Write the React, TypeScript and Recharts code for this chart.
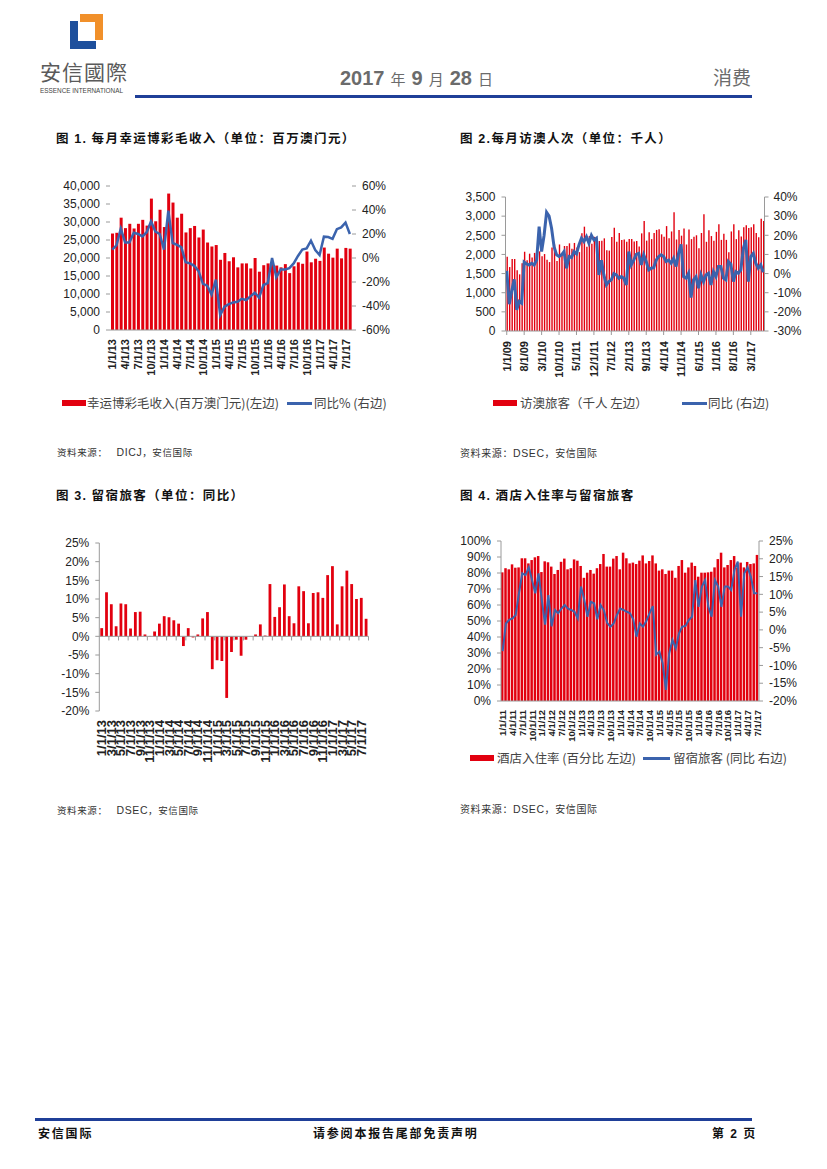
import React from 'react';
import { ComposedChart, Bar, Line, XAxis, YAxis, ReferenceLine } from 'recharts';

const RED = '#e2000f';
const BLUE = '#3b63ad';
const AXIS_GRAY = '#9a9a9a';
const NAVY = '#1f3f98';
const NUM_FONT = '"Liberation Sans", Arial, Helvetica, sans-serif';
const CJK = '"Noto Sans CJK SC", "Noto Sans", sans-serif';

// month labels like "1/1/13"
const months = (year: number, month: number, n: number) => {
  const out: string[] = [];
  for (let i = 0; i < n; i++) {
    const t = month - 1 + i;
    const yy = String((year + Math.floor(t / 12)) % 100).padStart(2, '0');
    out.push(`${(t % 12) + 1}/1/${yy}`);
  }
  return out;
};

// ---- 图1: 博彩毛收入 (Jan 2013 - Aug 2017)
const ggrMonths = months(2013, 1, 56);
const ggrRevenue = [
  26800, 27000, 31200, 28300, 29500, 28200, 29500, 30600, 29000, 36500, 30200, 33400,
  28600, 37900, 35400, 31200, 32300, 27100, 28300, 28900, 25700, 27900, 24300, 23200,
  23600, 19500, 21400, 19100, 20200, 17400, 18500, 18500, 17100, 20000, 16200, 18000,
  18500, 18600, 17900, 17400, 18300, 15800, 17700, 18800, 18400, 21800, 18800, 19800,
  19200, 22900, 21200, 20100, 22600, 19900, 22800, 22600,
];
const ggrYoY = [
  7, 10.5, 24.5, 13, 13, 21, 20, 18, 21.5, 30.5, 22, 20,
  7, 39.5, 12.5, 11, 9, -3.5, -4.5, -6.5, -11, -21.5, -23, -30.5,
  -18, -47.5, -40.5, -38.5, -37, -36.5, -34, -35, -32, -29, -33, -22.5,
  -21, 0, -16, -9.5, -9.5, -8.5, -4.5, 1.7, 7, 8, 14.4, 6.7,
  2.5, 17.8, 17.5, 16, 24, 25.5, 29.5, 20,
];
const ggrLeftTicks = [0, 5000, 10000, 15000, 20000, 25000, 30000, 35000, 40000];
const ggrRightTicks = [-60, -40, -20, 0, 20, 40, 60];

// ---- 图2: 访澳人次 (Jan 2009 - Aug 2017)
const visitorMonths = months(2009, 1, 104);
const visitors = [
  1940, 1670, 1880, 1880, 1590, 1480, 1770, 2070, 1850, 2020, 1920, 2040,
  2070, 2080, 1950, 2010, 1860, 1800, 2180, 2260, 1830, 2260, 2000, 2220,
  2220, 2290, 2150, 2300, 2180, 2060, 2550, 2725, 2200, 2480, 2280, 2460,
  2420, 2350, 2360, 2420, 2110, 2100, 2455, 2700, 2330, 2560, 2380, 2390,
  2330, 2400, 2400, 2340, 2350, 2210, 2550, 2870, 2360, 2580, 2400, 2560,
  2640, 2655, 2525, 2460, 2740, 2420, 2600, 3100, 2390, 2640, 2490, 2680,
  2260, 2650, 2400, 2460, 2500, 2160, 2560, 3050, 2330, 2630, 2480, 2360,
  2590, 2790, 2380, 2540, 2380, 2060, 2600, 2790, 2400, 2630, 2470, 2710,
  2760, 2690, 2710, 2790, 2560, 2450, 2930, 2870,
];
const visitorYoY = [
  1.4, -16, -9, -3, -19, -14.6, -15.5, 6, 5, 4.5, 5.4, 4.5,
  7, 24.5, 11.5, 20, 32, 30, 23.7, 14, 9.8, 8.9, 9.8, 11.5,
  2.8, 8.9, 8.4, 11.5, 10.3, 15, 18.5, 16.7, 19.3, 15.9, 20, 17.6,
  18.5, -0.7, 7, -0.7, -5.9, -4.2, -3.3, 0, -0.7, -2.4, -1.6, -2.4,
  -5.9, 11.5, 4.5, 7, 10, 10.6, 4.5, 9.8, 6.3, 1.9, 2.8, 3.1,
  7, 8.9, 9.8, 8.9, 6.3, 7, 5.4, 8, 3.7, 10.6, 15.3, -1.6,
  -2.4, 0.2, -12.5, -3.3, -1.6, -7.7, -0.7, -4.2, -0.7, 0.2, -5.9, 1,
  -1.6, 3.7, 3.7, -2.4, -3.3, 6.3, 4.9, -4.2, 1, 0.2, 1.9, 13.2,
  17.6, -4.2, 8.9, 10.6, 5.4, 2.8, 4.5, 0.7,
];
const visitorLeftTicks = [0, 500, 1000, 1500, 2000, 2500, 3000, 3500];
const visitorRightTicks = [-30, -20, -10, 0, 10, 20, 30, 40];

// ---- 图3: 留宿旅客同比 (Jan 2013 - Aug 2017)
const stayMonths = months(2013, 1, 56);
const stayGrowth = [
  2.2, 11.8, 8.6, 2.7, 8.8, 8.6, 2.1, 6.5, 6.6, 0.5,
  0.1, 1.3, 3.4, 5.4, 5.1, 4.3, 3.4, -2.6, 2.2, -0.3,
  0.5, 4.8, 6.5, -8.8, -6.4, -6.6, -16.5, -4.2, -0.9, -5.2,
  -0.9, 0, 0.5, 3.2, 0.2, 14.0, 5.2, 7.8, 13.9, 5.4,
  3.5, 13.4, 12.1, 3.5, 11.6, 11.8, 10.3, 16.4, 18.8, 3.2,
  13.4, 17.6, 14.0, 10.0, 10.3, 4.7,
];
const stayTicks = [-20, -15, -10, -5, 0, 5, 10, 15, 20, 25];

// ---- 图4: 酒店入住率与留宿旅客 (Jan 2011 - Jul 2017)
const hotelMonths = months(2011, 1, 79);
const occupancy = [
  80.4, 83, 82.3, 85.4, 83.3, 83.5, 89.2, 89.2, 86, 88.1, 89.8, 90.6,
  80.6, 87.3, 86.7, 84, 79.4, 81.9, 87, 89, 82.3, 83, 88.5, 87.7,
  84.4, 77, 80.2, 81.9, 79.6, 83, 85.6, 91.9, 84, 84, 89, 90.6,
  82.3, 92.7, 89.2, 86, 86.5, 85.6, 87.7, 91, 86, 87.5, 91, 86,
  81.5, 82.3, 79.4, 81.5, 81.5, 77, 84.4, 88.1, 80.2, 83.5, 86.5, 84.4,
  77.7, 80.2, 80.2, 80.4, 80.8, 83.5, 88.7, 92.7, 83.5, 85, 88.1, 90.6,
  83.5, 86.5, 83.5, 86.9, 85.6, 86, 91.3,
];
const guestYoY = [
  -6, 1.8, 2.8, 3.2, 4.2, 10.3, 15.9, 15.4, 17.6, 14, 10.3, 15.9,
  8.4, 1.5, 9.8, 1.0, 5.6, 4.7, 6, 7, 6, 5.6, 5.1, 3.2,
  12.2, 8.4, 3.7, 7.9, 7.5, 3, 7, 5.5, 2, 0.9, 1.8, 4.2,
  6, 5.6, 5.1, 4.7, 3, -1.9, 1.8, 0.9, 2.5, 4.7, 6.7, -7,
  -6.1, -9.4, -16.9, -6.6, -2.8, -5.2, -1, 0.9, 1.1, 2.8, 3.7, 14,
  6.5, 12.2, 14, 6.5, 3.7, 14, 12.2, 6.5, 12.2, 12.2, 11.2, 16.9,
  19.2, 3.7, 15.9, 17.6, 15, 10.3, 10.3,
];
const hotelLeftTicks = [0, 10, 20, 30, 40, 50, 60, 70, 80, 90, 100];
const hotelRightTicks = [-20, -15, -10, -5, 0, 5, 10, 15, 20, 25];

const ggrData = ggrMonths.map((m, i) => ({ m, rev: ggrRevenue[i], yoy: ggrYoY[i] }));
const visitorData = visitorMonths.map((m, i) => ({ m, v: visitors[i], yoy: visitorYoY[i] }));
const stayData = stayMonths.map((m, i) => ({ m, g: stayGrowth[i] }));
const hotelData = hotelMonths.map((m, i) => ({ m, occ: occupancy[i], yoy: guestYoY[i] }));

const fmtThousands = (v: number) => String(v).replace(/\B(?=(\d{3})+(?!\d))/g, ',');
const fmtPct = (v: number) => `${v}%`;

const numTick = { fontSize: 12, fill: '#222', fontFamily: NUM_FONT };

const RotTick = (props: any) => {
  const { x, y, payload, size } = props;
  return (
    <text
      x={x}
      y={y}
      transform={`rotate(-90 ${x} ${y})`}
      textAnchor="end"
      dominantBaseline="central"
      fontSize={size}
      fontWeight="bold"
      fill="#222"
      fontFamily={NUM_FONT}
    >
      {payload.value}
    </text>
  );
};

const abs = (left: number, top: number, extra: React.CSSProperties = {}): React.CSSProperties => ({
  position: 'absolute',
  left,
  top,
  whiteSpace: 'nowrap',
  ...extra,
});

const Title = ({ x, y, children }: { x: number; y: number; children: React.ReactNode }) => (
  <div style={abs(x, y, { fontFamily: CJK, fontWeight: 700, fontSize: 12.5, letterSpacing: 1.4, color: '#111', lineHeight: '14px' })}>
    {children}
  </div>
);

const Source = ({ x, y, size, children }: { x: number; y: number; size: number; children: React.ReactNode }) => (
  <div style={abs(x, y, { fontFamily: CJK, fontSize: size, color: '#333', lineHeight: '12px', letterSpacing: 0.6 })}>
    {children}
  </div>
);

const LegendBox = ({ x, y }: { x: number; y: number }) => (
  <div style={abs(x, y, { width: 24, height: 6, background: RED })} />
);
const LegendLine = ({ x, y, w }: { x: number; y: number; w: number }) => (
  <div style={abs(x, y, { width: w, height: 3, background: BLUE })} />
);
const LegendText = ({ x, y, children }: { x: number; y: number; children: React.ReactNode }) => (
  <div style={abs(x, y, { fontFamily: CJK, fontSize: 12.5, color: '#444', lineHeight: '14px', letterSpacing: 0 })}>
    {children}
  </div>
);

const Header = () => (
  <>
    <svg style={{ position: 'absolute', left: 68, top: 13 }} width={37} height={38}>
      <path d="M2 8 H10 V28 H28 V36 H2 Z" fill="#1d4f9c" />
      <path d="M12 1 H35 V27 H27 V9 H12 Z" fill="#f1902a" />
    </svg>
    <div style={abs(40, 58, { fontFamily: '"Noto Sans CJK TC", "Noto Sans CJK SC", sans-serif', fontSize: 21, color: '#5a5a5a', lineHeight: '26px', letterSpacing: 1 })}>
      安信國際
    </div>
    <div style={abs(40, 87, { fontFamily: NUM_FONT, fontSize: 6.4, color: '#444', lineHeight: '8px' })}>
      ESSENCE INTERNATIONAL
    </div>
    <div style={abs(135, 95, { width: 617, height: 3, background: NAVY })} />
    <div style={abs(340, 68, { color: '#6b6b6b', lineHeight: '20px' })}>
      <span style={{ fontFamily: NUM_FONT, fontWeight: 700, fontSize: 20 }}>2017</span>
      <span style={{ fontFamily: CJK, fontSize: 15, margin: '0 6px' }}>年</span>
      <span style={{ fontFamily: NUM_FONT, fontWeight: 700, fontSize: 20 }}>9</span>
      <span style={{ fontFamily: CJK, fontSize: 15, margin: '0 6px' }}>月</span>
      <span style={{ fontFamily: NUM_FONT, fontWeight: 700, fontSize: 20 }}>28</span>
      <span style={{ fontFamily: CJK, fontSize: 15, marginLeft: 6 }}>日</span>
    </div>
    <div style={abs(713, 66, { fontFamily: CJK, fontSize: 19, color: '#6b6b6b', lineHeight: '22px' })}>消费</div>
  </>
);

const Footer = () => {
  const f = { fontFamily: CJK, fontWeight: 700, fontSize: 12, color: '#111', letterSpacing: 1.8, lineHeight: '14px' };
  return (
    <>
      <div style={abs(35, 1118, { width: 717, height: 3, background: NAVY })} />
      <div style={abs(38, 1126, f)}>安信国际</div>
      <div style={abs(313, 1126, f)}>请参阅本报告尾部免责声明</div>
      <div style={abs(712, 1126, f)}>
        第 <span style={{ fontFamily: NUM_FONT }}>2</span> 页
      </div>
    </>
  );
};

const GgrChart = () => (
  <div style={abs(40, 176)}>
    <ComposedChart width={380} height={210} data={ggrData} margin={{ top: 10, right: 0, bottom: 0, left: 0 }}>
      <XAxis
        dataKey="m"
        interval={2}
        height={56}
        axisLine={{ stroke: AXIS_GRAY }}
        tickLine={false}
        tickSize={0}
        tickMargin={9}
        tick={(p: any) => <RotTick {...p} size={11} />}
      />
      <YAxis
        yAxisId="l"
        domain={[0, 40000]}
        ticks={ggrLeftTicks}
        interval={0}
        width={70}
        axisLine={false}
        tickLine={{ stroke: AXIS_GRAY }}
        tickSize={4}
        tickMargin={6}
        tick={numTick}
        tickFormatter={fmtThousands}
      />
      <YAxis
        yAxisId="r"
        orientation="right"
        domain={[-60, 60]}
        ticks={ggrRightTicks}
        interval={0}
        width={68}
        axisLine={false}
        tickLine={{ stroke: AXIS_GRAY }}
        tickSize={4}
        tickMargin={6}
        tick={numTick}
        tickFormatter={fmtPct}
      />
      <Bar yAxisId="l" dataKey="rev" fill={RED} barSize={3} isAnimationActive={false} />
      <Line yAxisId="r" dataKey="yoy" type="linear" stroke={BLUE} strokeWidth={2.5} dot={false} isAnimationActive={false} />
    </ComposedChart>
  </div>
);

const VisitorChart = () => (
  <div style={abs(440, 186)}>
    <ComposedChart width={380} height={200} data={visitorData} margin={{ top: 11, right: 0, bottom: 0, left: 0 }}>
      <XAxis
        dataKey="m"
        interval={6}
        height={55}
        axisLine={{ stroke: AXIS_GRAY }}
        tickLine={{ stroke: AXIS_GRAY }}
        tickSize={4}
        tickMargin={6}
        tick={(p: any) => <RotTick {...p} size={11} />}
      />
      <YAxis
        yAxisId="l"
        domain={[0, 3500]}
        ticks={visitorLeftTicks}
        interval={0}
        width={65.5}
        axisLine={{ stroke: AXIS_GRAY }}
        tickLine={{ stroke: AXIS_GRAY }}
        tickSize={4}
        tickMargin={6}
        tick={numTick}
        tickFormatter={fmtThousands}
      />
      <YAxis
        yAxisId="r"
        orientation="right"
        domain={[-30, 40]}
        ticks={visitorRightTicks}
        interval={0}
        width={55.5}
        axisLine={{ stroke: AXIS_GRAY }}
        tickLine={{ stroke: AXIS_GRAY }}
        tickSize={4}
        tickMargin={5}
        tick={numTick}
        tickFormatter={fmtPct}
      />
      <Bar yAxisId="l" dataKey="v" fill={RED} barSize={1.4} isAnimationActive={false} />
      <Line yAxisId="r" dataKey="yoy" type="linear" stroke={BLUE} strokeWidth={3} dot={false} isAnimationActive={false} />
    </ComposedChart>
  </div>
);

const StayChart = () => (
  <div style={abs(40, 530)}>
    <ComposedChart width={380} height={240} data={stayData} margin={{ top: 13, right: 51.5, bottom: 0, left: 0 }}>
      <XAxis
        dataKey="m"
        interval={1}
        height={59}
        axisLine={false}
        tickLine={false}
        tickSize={0}
        tickMargin={9}
        tick={(p: any) => <RotTick {...p} size={13} />}
      />
      <YAxis
        domain={[-20, 25]}
        ticks={stayTicks}
        interval={0}
        width={59.3}
        axisLine={{ stroke: AXIS_GRAY }}
        tickLine={{ stroke: AXIS_GRAY }}
        tickSize={4}
        tickMargin={6}
        tick={numTick}
        tickFormatter={fmtPct}
      />
      <Bar dataKey="g" fill={RED} barSize={2.8} isAnimationActive={false} />
      <ReferenceLine y={0} stroke={AXIS_GRAY} />
      {stayMonths
        .filter((_, i) => i % 2 === 1)
        .map((m) => (
          <ReferenceLine
            key={m}
            segment={[{ x: m, y: 0 }, { x: m, y: -1.1 }]}
            position="end"
            stroke={AXIS_GRAY}
            ifOverflow="visible"
          />
        ))}
    </ComposedChart>
  </div>
);

const HotelChart = () => (
  <div style={abs(440, 530)}>
    <ComposedChart width={380} height={220} data={hotelData} margin={{ top: 11, right: 0, bottom: 0, left: 0 }}>
      <XAxis
        dataKey="m"
        interval={2}
        height={49}
        axisLine={{ stroke: AXIS_GRAY }}
        tickLine={false}
        tickSize={0}
        tickMargin={9}
        tick={(p: any) => <RotTick {...p} size={9.5} />}
      />
      <YAxis
        yAxisId="l"
        domain={[0, 100]}
        ticks={hotelLeftTicks}
        interval={0}
        width={61}
        axisLine={{ stroke: AXIS_GRAY }}
        tickLine={{ stroke: AXIS_GRAY }}
        tickSize={4}
        tickMargin={6}
        tick={numTick}
        tickFormatter={fmtPct}
      />
      <YAxis
        yAxisId="r"
        orientation="right"
        domain={[-20, 25]}
        ticks={hotelRightTicks}
        interval={0}
        width={61}
        axisLine={{ stroke: AXIS_GRAY }}
        tickLine={{ stroke: AXIS_GRAY }}
        tickSize={4}
        tickMargin={6}
        tick={numTick}
        tickFormatter={fmtPct}
      />
      <Bar yAxisId="l" dataKey="occ" fill={RED} barSize={2.5} isAnimationActive={false} />
      <Line yAxisId="r" dataKey="yoy" type="linear" stroke={BLUE} strokeWidth={2} dot={false} isAnimationActive={false} />
    </ComposedChart>
  </div>
);

export default function App() {
  return (
    <div style={{ position: 'absolute', left: 0, top: 0, width: 827, height: 1169, background: '#fff', overflow: 'hidden' }}>
      <Header />

      <Title x={56} y={131}>图 <span style={{ fontFamily: NUM_FONT }}>1.</span> 每月幸运博彩毛收入（单位：百万澳门元）</Title>
      <GgrChart />
      <LegendBox x={62} y={400} />
      <LegendText x={87} y={396}>幸运博彩毛收入(百万澳门元)(左边)</LegendText>
      <LegendLine x={287} y={402} w={25} />
      <LegendText x={314} y={396}>同比% (右边)</LegendText>
      <Source x={57} y={446} size={9.5}>
        资料来源：<span style={{ marginLeft: 9, fontFamily: NUM_FONT, fontSize: 10.5 }}>DICJ</span>，安信国际
      </Source>

      <Title x={460} y={131}>图 <span style={{ fontFamily: NUM_FONT }}>2.</span>每月访澳人次（单位：千人）</Title>
      <VisitorChart />
      <LegendBox x={493} y={400} />
      <LegendText x={520} y={396}>访澳旅客（千人 左边）</LegendText>
      <LegendLine x={682} y={402} w={25} />
      <LegendText x={708} y={396}>同比 (右边)</LegendText>
      <Source x={460} y={447} size={10}>
        资料来源：<span style={{ fontFamily: NUM_FONT, fontSize: 10.5 }}>DSEC</span>，安信国际
      </Source>

      <Title x={56} y={488}>图 <span style={{ fontFamily: NUM_FONT }}>3.</span> 留宿旅客（单位：同比）</Title>
      <StayChart />
      <Source x={57} y={804} size={9.5}>
        资料来源：<span style={{ marginLeft: 9, fontFamily: NUM_FONT, fontSize: 10.5 }}>DSEC</span>，安信国际
      </Source>

      <Title x={460} y={488}>图 <span style={{ fontFamily: NUM_FONT }}>4.</span> 酒店入住率与留宿旅客</Title>
      <HotelChart />
      <LegendBox x={470} y={755} />
      <LegendText x={497} y={751}>酒店入住率 (百分比 左边)</LegendText>
      <LegendLine x={643} y={757} w={27} />
      <LegendText x={673} y={751}>留宿旅客 (同比 右边)</LegendText>
      <Source x={460} y={803} size={10}>
        资料来源：<span style={{ fontFamily: NUM_FONT, fontSize: 10.5 }}>DSEC</span>，安信国际
      </Source>

      <Footer />
    </div>
  );
}
